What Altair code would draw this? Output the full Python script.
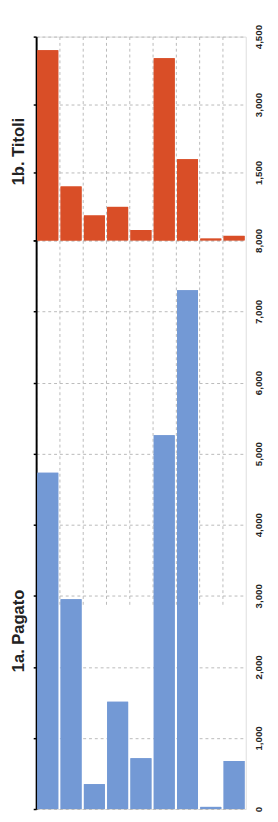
import altair as alt
import pandas as pd

categories = ["1", "2", "3", "4", "5", "6", "7", "8", "9"]
pagato = [4730, 2950, 350, 1510, 715, 5260, 7300, 30, 675]
titoli = [4200, 1190, 550, 740, 230, 4020, 1790, 40, 100]
titoli_ticks = [0, 1500, 3000, 4500]
titoli_labels = [1500, 3000, 4500]
pagato_ticks = [0, 1000, 2000, 3000, 4000, 5000, 6000, 7000, 8000]

W = 216
H_TOP = 210
H = 796
GRID = "#b9b9b9"
LABEL_FONT = "Liberation Sans Narrow, Liberation Sans, Arial"

x = alt.X(
    "cat:N", sort=None,
    scale=alt.Scale(paddingInner=0, paddingOuter=0),
    axis=alt.Axis(labels=False, ticks=False, domain=False, title=None,
                  grid=True, bandPosition=0, gridDash=[3, 3],
                  gridColor=GRID, gridWidth=1),
)


def layers(values, color, title, dmax, rng, ticks, labels, title_y):
    df = pd.DataFrame({"cat": categories, "v": values})
    yscale = alt.Scale(domain=[0, dmax], range=rng, nice=False, zero=True)
    base = alt.Chart(df).mark_bar(color=color, width=alt.RelativeBandSize(0.9))
    left = base.encode(
        x=x,
        y=alt.Y("v:Q", scale=yscale, axis=alt.Axis(
            orient="left", values=ticks, labels=False, ticks=True, tickSize=3,
            tickColor="black", tickWidth=1.5, domain=True, domainColor="black",
            domainWidth=2, title=title, titleFontSize=17, titleFont="Liberation Sans",
            titleFontWeight="bold", titleColor="#222222", titleY=title_y,
            titlePadding=5, grid=True, gridDash=[3, 3], gridColor=GRID)),
    )
    right = base.encode(
        x=x,
        y=alt.Y("v:Q", scale=yscale, axis=alt.Axis(
            orient="right", values=labels, labelAngle=-90, format=",d",
            labelFont=LABEL_FONT, labelFontWeight="bold", labelFontSize=10,
            labelColor="#222222", labelAlign="center", labelBaseline="middle",
            labelPadding=13, ticks=False, domain=False, grid=False, title=None,
            labelOverlap=False, labelFlush=False)),
    )
    return [left, right]


top_layers = layers(titoli, "#d94e27", "1b. Titoli", 4500, [H_TOP, 0],
                    titoli_ticks, titoli_labels, 118)
bottom_layers = layers(pagato, "#7399d5", "1a. Pagato", 8000, [H, H_TOP],
                       pagato_ticks, pagato_ticks, 612)

chart = alt.layer(*bottom_layers, *top_layers).resolve_scale(
    y="independent").resolve_axis(y="independent").properties(
    width=W, height=H,
    autosize=alt.AutoSizeParams(type="none"),
    padding={"left": 29, "right": 25, "top": 17, "bottom": 5},
).configure_view(
    stroke=GRID, strokeDash=[3, 3], fill="#fbfcfe"
).configure(background="#ffffff")

chart.save("out.html", embed_options={"renderer": "svg", "actions": False})
